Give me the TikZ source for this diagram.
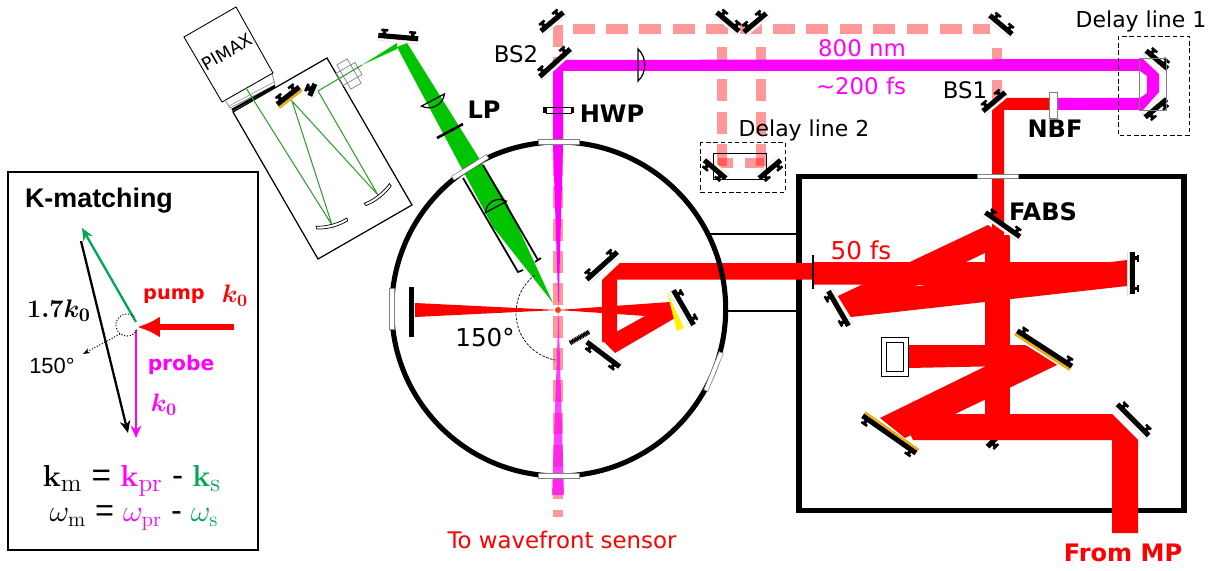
\documentclass[tikz,border=0pt]{standalone}
\usepackage{amsmath}
\usepackage{amssymb}
\usepackage[no-math]{fontspec}
\setmainfont{DejaVu Sans}
\newfontfamily\arialfont{Liberation Sans}
\usepackage{tikz}
\usetikzlibrary{arrows.meta,positioning}
\definecolor{beamgreen}{HTML}{00C400}
\definecolor{eqgreen}{HTML}{00A651}
\definecolor{linegreen}{HTML}{2DA02D}
\definecolor{coatorange}{HTML}{F5B000}
\definecolor{probe}{HTML}{FF00FF}
\newcommand*{\mirror}[5]{% x,y,angle,length,coating
		\begin{scope}[shift={(#1,#2)},rotate=#3]
			\fill [black] (-#4/2,-5.5) rectangle (#4/2,0);
			\foreach \s in {-1,1} {
				\fill [black] (\s*#4/2-\s*7.5,-8) rectangle (\s*#4/2-\s*4,-5);
				\fill [black] (\s*#4/2-\s*9.5,-10) rectangle (\s*#4/2-\s*2.5,-7.5);
			}
			\draw [draw=#5!75!gray, fill=#5, line width=0.3pt] (-#4/2,0) rectangle (#4/2,2);
		\end{scope}
}
\newcommand*{\lens}[4]{% x,y,angle,length
		\begin{scope}[shift={(#1,#2)},rotate=#3]
			\draw [black, line width=0.7pt] (-#4/2,0) -- (#4/2,0) .. controls (#4/4,9) and (-#4/4,9) .. cycle;
		\end{scope}
}
\newcommand*{\curvedmirror}[3]{% x,y,angle
		\begin{scope}[shift={(#1,#2)},rotate=#3]
			\draw [black, fill=white, line width=0.4pt] (-16,-2) .. controls (-6,1) and (6,1) .. (16,-2) -- (16,1) .. controls (6,4) and (-6,4) .. (-16,1) -- cycle;
		\end{scope}
}
\tikzset{pinkbeam/.style={red, opacity=0.4, line width=5.7pt, dash pattern=on 12.5pt off 5.9pt}}
\tikzset{window/.style={draw=gray, fill=white, line width=0.3pt, minimum width=0.82cm, minimum height=0.09cm, inner sep=0pt, outer sep=0pt}}
\tikzset{label/.style={font=\fontsize{13}{15}\selectfont, inner sep=0pt}}
\tikzset{delaylabel/.style={font=\fontsize{12.5}{15}\selectfont, inner sep=0pt}}
\tikzset{boldlabel/.style={font=\fontsize{13.7}{15}\selectfont\bfseries, inner sep=0pt}}
\tikzset{dashbox/.style={black, dashed, line width=0.5pt, dash pattern=on 2.5pt off 1.6pt}}
\tikzset{kvec/.style={line width=1.3pt, -{Stealth[length=7pt,width=6pt]}}}

\begin{document}
\begin{tikzpicture}[x=0.02cm,y=-0.02cm]
			\useasboundingbox (0,0) rectangle (1214,571);
			% reference beam
			\draw [pinkbeam] (558,24.6) -- (558,517);
			\draw [pinkbeam, dash pattern=on 12.5pt off 6.5pt] (572.7,29) -- (990,29);
			\foreach \x in {722,761} {
				\draw [pinkbeam] (\x,47) -- (\x,166);
			}
			\draw [pinkbeam] (997,48) -- (997,100);
			\draw [pinkbeam, dash pattern=on 8.5pt off 6.5pt] (718,163) -- (733,163);
			\draw [pinkbeam, dash pattern=on 11pt off 6.5pt] (745,163) -- (765,163);
			% spectrometer
			\draw [black, line width=0.7pt] (327,58) -- (412,205) -- (318,259) -- (233,112) -- cycle;
			\draw [black, line width=0.5pt, fill=white] (184,37) -- (236,7) -- (273,73) -- (222,102) -- cycle;
			\draw [gray, line width=0.4pt] (225,100) -- (230,108) -- (275,85) -- (272,74);
			\draw [black, line width=1.4pt] (232,110) -- (275,86);
			\draw [gray, line width=0.3pt] (229,106) -- (274,82);
			\node [rotate=30, font=\fontsize{10}{12}\selectfont, inner sep=0pt] (pimax) at (227,52) {PIMAX};
			\begin{scope}[shift={(349,74)},rotate=30]
				\draw [gray, line width=0.4pt] (-6,-14) rectangle (6,14);
				\draw [gray, line width=0.4pt] (-11,-7) rectangle (11,7);
			\end{scope}
			\draw [linegreen, line width=0.6pt] (362,65) -- (318,91) -- (378,195) -- (292,101) -- (332,225) -- (246,88);
			\fill [beamgreen] (397,43) -- (397,49) -- (362,65) -- cycle;
			\mirror{290}{98}{38}{28}{coatorange}
			\mirror{315}{91}{67}{13}{white}
			\curvedmirror{332}{224}{15}
			\curvedmirror{378}{195}{38}
			% chamber and box
			\draw [black, line width=1.6pt] (710,234) -- (799,234);
			\draw [black, line width=1.6pt] (728,311) -- (799,311);
			\draw [black, line width=3.2pt] (799,176.5) rectangle (1184,510.5);
			\mirror{1001}{429}{225}{44}{white}
			% red beams
			\fill [red] (1000,98) -- (1053,98) -- (1053,110) -- (1004,110) -- (1004,235) -- (992,235) -- (992,105) -- cycle;
			\fill [red] (988,225) -- (1010,241) -- (851,317) -- (838,296) -- cycle;
			\fill [red] (1127,260) -- (1127,286) -- (851,317) -- (838,296) -- cycle;
			\fill [red] (813,262) -- (1127,262) -- (1127,286) -- (813,284.5) -- cycle;
			\fill [red] (985,235) rectangle (1010,440);
			\fill [red] (908,345) -- (1025,345) -- (1057,365) -- (908,368) -- cycle;
			\fill [red] (880,418) -- (1027,346) -- (1057,365) -- (905,438) -- cycle;
			\fill [red] (900,414) -- (1112,414) -- (1138,440) -- (1138,533) -- (1112,533) -- (1112,440) -- (913,440) -- cycle;
			\fill [red] (602,280) -- (620,263) -- (813,263) -- (813,279.5) -- (617,279.5) -- (617,342) -- (602,342) -- cycle;
			\fill [red] (602,340) -- (615,353) -- (675,318) -- (670,302) -- cycle;
			\fill [red] (558,310) -- (670,302) -- (675,318) -- cycle;
			\fill [red] (415,303) -- (558,310) -- (415,317) -- cycle;
			\fill [yellow] (667,292) -- (684,328) -- (677,331) -- cycle;
			% probe beam
			\draw [black, fill=white, line width=0.4pt] (546,107) rectangle (571,113);
			\fill [probe] (553,60) -- (1143,59) -- (1159,74) -- (1159,92) -- (1143,110) -- (1053,110) -- (1053,98) -- (1140,98) -- (1147,93) -- (1147,76) -- (1140,71) -- (563,71) -- (563,145) -- (558.5,310) -- (553,145) -- cycle;
			\fill [probe, opacity=0.75] (558.5,310) -- (564,495) -- (552,495) -- cycle;
			\draw [black, line width=0.4pt] (546,107) rectangle (571,113);
			\fill [black] (543,107) rectangle (546,113);
			\fill [black] (571,107) rectangle (574,113);
			\lens{638}{65}{90}{32}
			% pump line to the grating
			\fill [beamgreen] (407,43) -- (507,203) -- (553,303) -- (493,227) -- (397,47) -- cycle;
			\draw [black, line width=1.5pt] (437,138) -- (463,124);
			\lens{433}{100}{28}{26}
			\lens{496}{207}{208}{24}
			\draw [black, line width=1pt] (463,178) -- (518,272) -- (523,270);
			\draw [black, line width=1pt] (483,165) -- (538,260);
			\draw [black, line width=1pt] (535,262) -- (541,258);
			\fill [orange!50!red] (558,310) circle (3);
			\fill [black] (409,287) rectangle (414,337);
			\draw [black, line width=0.4pt, dashed, dash pattern=on 1.5pt off 0.8pt, domain=127:260, samples=40] plot ({563.6+47.6*cos(\x)},{313.1-47.6*sin(\x)});
			% chamber
			\draw [black, line width=2.9pt] (558.7,309) circle (167);
			\foreach \a in {90,122,180,270,338} {
				\node [window, rotate=\a-90] (win\a) at ([shift={(-\a:167)}] 558.7,309) {};
			}
			\node [window] (winbox) at (997.5,176.5) {};
			\draw [black, line width=0.8pt] (813,255) -- (813,289);
			% mirrors
			\foreach \x/\y/\a/\l in {554/24/40/29,557/65/42/41,726/24/-40/29,757/25/40/29,717/167/140/28,768/167/220/28,999/27/-40/29,996/104/40/29,1155/62/-40/28,1154/106/220/28,398/40/-5/40,604/268/42/41,605/352/143/41,681/309/-60/40,1001/227/-35/42,1129/273/-90/42,841/307/120/40,1131/422/-45/44} {
				\mirror{\x}{\y}{\a}{\l}{white}
			}
			\mirror{1043}{351}{-33}{65}{coatorange}
			\mirror{891}{432}{145}{65}{coatorange}
			\draw [black, line width=1.2pt] (570,343) -- (589,332);
			\draw [black, line width=2.8pt, dash pattern=on 0.6pt off 0.4pt] (570,343) -- (589,332);
			\draw [black, fill=white, line width=0.5pt] (881,337) rectangle (908,376);
			\draw [black, line width=0.5pt] (886,342) rectangle (903,371);
			\draw [gray, fill=white, line width=0.4pt] (1049,92) rectangle (1057,118);
			% delay boxes
			\draw [dashbox] (700,142) rectangle (785,192);
			\draw [dashbox] (1118,36) rectangle (1189,135);
			\draw [black, line width=0.5pt] (713,153) rectangle (766,179);
			\draw [gray, line width=0.5pt] (1139,58) rectangle (1166,110);
			% labels
			\node [label] (bstwo) at (516,54) {BS2};
			\node [label] (bsone) at (965,90) {BS1};
			\node [label, probe] (wavelen) at (862,48) {800 nm};
			\node [label, probe] (duration) at (861,86) {\textasciitilde 200 fs};
			\node [delaylabel] (delayone) at (1141,21) {Delay line 1};
			\node [delaylabel] (delaytwo) at (804,130) {Delay line 2};
			\node [boldlabel] (hwp) at (612,114) {HWP};
			\node [boldlabel] (lp) at (484,110) {LP};
			\node [boldlabel] (nbf) at (1055,129) {NBF};
			\node [boldlabel] (fabs) at (1043,212) {FABS};
			\node [red, font=\fontsize{14}{16}\selectfont, inner sep=0pt] (pulse) at (861,250) {50 fs};
			\node [font=\fontsize{14}{16}\selectfont, inner sep=0pt] (chamberangle) at (485,338) {150°};
			\node [label, red] (tosensor) at (562,540) {To wavefront sensor};
			\node [boldlabel, red] (frommp) at (1123,553) {From MP};
			% k-matching panel
			\draw [black, line width=0.9pt] (8,172) rectangle (258,550);
			\node [font=\arialfont\bfseries\fontsize{15.3}{17}\selectfont, inner sep=0pt] (ktitle) at (99,201) {K-matching};
			\coordinate (kgreen) at (136,322);
			\coordinate (kgreentip) at (82,228);
			\coordinate (kblack) at (81,241);
			\coordinate (kblacktip) at (128,433);
			\coordinate (kpump) at (234,327);
			\coordinate (kpumptip) at (137,327);
			\coordinate (kprobe) at (136,330);
			\coordinate (kprobetip) at (136,438);
			\coordinate (kdot) at (120,334);
			\coordinate (kdottip) at (83,354);
			\draw [kvec, eqgreen] (kgreen) -- (kgreentip);
			\draw [kvec, black] (kblack) -- (kblacktip);
			\draw [red, line width=3.4pt, -{Latex[length=13pt,width=12pt]}] (kpump) -- (kpumptip);
			\draw [kvec, probe] (kprobe) -- (kprobetip);
			\draw [black, densely dotted, line width=0.6pt, domain=50:335, samples=40] plot ({127+11*cos(\x)},{325-11*sin(\x)});
			\draw [black, densely dotted, line width=0.6pt, -{Stealth[length=4pt]}] (kdot) -- (kdottip);
			\node [font=\fontsize{11}{13}\selectfont\bfseries, red, inner sep=0pt] (kpumplabel) at (174,296) {pump};
			\node [red, inner sep=0pt, font=\fontsize{14}{16}\selectfont] (kpumpk) at (235,296) {$\boldsymbol{k_0}$};
			\node [inner sep=0pt, font=\fontsize{15}{17}\selectfont] (kblacklabel) at (59,311) {$\boldsymbol{1.7k_0}$};
			\node [inner sep=0pt, font=\arialfont\fontsize{12.5}{14}\selectfont] (kangle) at (52,366) {150°};
			\node [font=\fontsize{11.5}{13}\selectfont\bfseries, probe, inner sep=0pt] (kprobelabel) at (181,365) {probe};
			\node [probe, inner sep=0pt, font=\fontsize{14}{16}\selectfont] (kprobek) at (164,405) {$\boldsymbol{k_0}$};
			\node [inner sep=0pt, font=\arialfont\fontsize{19}{21}\selectfont] (eqk) at (132,481) {$\mathbf{k}_{\mathrm{m}}$ = \textcolor{probe}{$\mathbf{k}_{\mathrm{pr}}$} - \textcolor{eqgreen}{$\mathbf{k}_{\mathrm{s}}$}};
			\node [inner sep=0pt, font=\arialfont\fontsize{18.5}{21}\selectfont] (eqw) at (134,518) {$\omega_{\mathrm{m}}$ = \textcolor{probe}{$\omega_{\mathrm{pr}}$} - \textcolor{eqgreen}{$\omega_{\mathrm{s}}$}};
		\end{tikzpicture}
\end{document}
